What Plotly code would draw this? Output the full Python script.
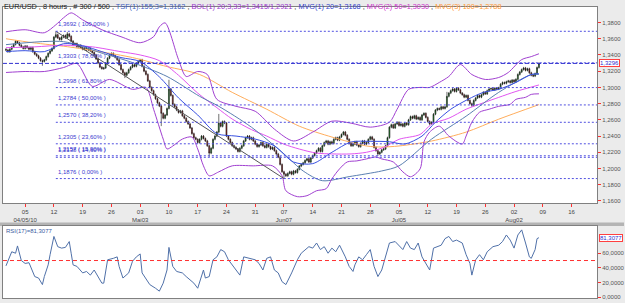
import plotly.graph_objects as go

# ---------------- data ----------------
close = [
    1.346, 1.344, 1.347, 1.350, 1.353, 1.357, 1.355, 1.352, 1.350, 1.348,
    1.351, 1.349, 1.347, 1.349, 1.344, 1.341, 1.339, 1.336, 1.333, 1.332,
    1.334, 1.338, 1.342, 1.345, 1.348,
    1.362, 1.365, 1.361, 1.359, 1.362, 1.364, 1.361, 1.366, 1.363, 1.357,
    1.352, 1.354, 1.350, 1.352, 1.349,
    1.347, 1.349, 1.346, 1.348, 1.345, 1.343, 1.340, 1.335, 1.330, 1.325,
    1.323, 1.324, 1.330, 1.336, 1.340,
    1.342, 1.339, 1.337, 1.334, 1.328, 1.322, 1.318, 1.315, 1.318, 1.322,
    1.325, 1.328, 1.326, 1.330, 1.332,
    1.334, 1.326, 1.320, 1.316, 1.308, 1.300, 1.296, 1.291, 1.286, 1.281,
    1.277, 1.268, 1.262, 1.266, 1.274,
    1.298, 1.290, 1.279, 1.276, 1.272, 1.269, 1.271, 1.265, 1.262, 1.258,
    1.255, 1.250, 1.243, 1.238, 1.236,
    1.232, 1.236, 1.240, 1.237, 1.234, 1.228, 1.219, 1.225, 1.236, 1.240,
    1.245, 1.256, 1.252, 1.258, 1.256,
    1.240, 1.236, 1.232, 1.228, 1.226, 1.224, 1.221, 1.225, 1.228, 1.234,
    1.238, 1.240, 1.236, 1.238, 1.234,
    1.230, 1.227, 1.229, 1.232, 1.228, 1.226, 1.230, 1.227, 1.224, 1.226,
    1.222, 1.218, 1.214, 1.205, 1.196,
    1.193, 1.191, 1.194, 1.196, 1.193, 1.197, 1.195, 1.199, 1.203, 1.205,
    1.207, 1.210, 1.212, 1.208, 1.213,
    1.216, 1.219, 1.222, 1.225, 1.221, 1.228, 1.232, 1.234, 1.230, 1.233,
    1.231, 1.236, 1.238, 1.235, 1.239,
    1.242, 1.245, 1.241, 1.236, 1.231, 1.228, 1.230, 1.233, 1.229, 1.227,
    1.231, 1.234, 1.230, 1.232, 1.236,
    1.239, 1.236, 1.226, 1.222, 1.218, 1.220, 1.223, 1.224, 1.228, 1.238,
    1.251, 1.254, 1.250, 1.255, 1.257,
    1.253, 1.255, 1.252, 1.256, 1.254, 1.260, 1.264, 1.262, 1.265, 1.261,
    1.263, 1.260, 1.266, 1.268, 1.263,
    1.258, 1.255, 1.257, 1.267, 1.272, 1.274, 1.273, 1.276, 1.274, 1.276,
    1.289, 1.293, 1.296, 1.298, 1.295,
    1.299, 1.297, 1.293, 1.291, 1.288, 1.290, 1.284, 1.280, 1.278, 1.284,
    1.287, 1.290, 1.288, 1.291, 1.294,
    1.292, 1.296, 1.298, 1.2985, 1.297, 1.299, 1.298, 1.2995, 1.304, 1.306,
    1.305, 1.307, 1.308, 1.306, 1.309,
    1.307, 1.310, 1.316, 1.319, 1.322, 1.324, 1.321, 1.323, 1.318, 1.315,
    1.314, 1.317, 1.3245, 1.3296,
]
first_open = 1.347
wick = 0.0013
special_high = {26: 1.3692, 32: 1.3682, 85: 1.3094, 111: 1.2673, 230: 1.2945}
special_low = {19: 1.3267, 50: 1.3220, 62: 1.3115, 81: 1.2523, 106: 1.2144,
               145: 1.1876, 194: 1.2155, 243: 1.2760}

# indicator readings: (bar index, value)
bb_up_idx = [0, 10, 20, 26, 30, 34, 40, 50, 60, 70, 77, 80, 83, 90, 94, 100, 105,
             110, 120, 130, 140, 150, 160, 170, 180, 190, 200, 204, 210, 216, 221,
             226, 231, 237, 243, 250, 257, 262, 269, 274, 278]
bb_up_val = [1.3686, 1.3711, 1.3674, 1.3772, 1.3858, 1.3919, 1.3833, 1.3711, 1.3625,
             1.3551, 1.3625, 1.3747, 1.3796, 1.3343, 1.3135, 1.3196, 1.3160, 1.2853,
             1.2767, 1.2706, 1.2486, 1.2339, 1.2449, 1.2584, 1.2559, 1.2510, 1.2571,
             1.2731, 1.2976, 1.3000, 1.3000, 1.3061, 1.3135, 1.3282, 1.3159, 1.3098,
             1.3122, 1.3184, 1.3343, 1.3380, 1.3415]
bb_lo_idx = [0, 10, 20, 30, 37, 45, 54, 66, 73, 77, 82, 84, 87, 92, 97, 100, 103,
             106, 111, 118, 129, 139, 144, 146, 152, 157, 162, 167, 170, 174, 178,
             183, 188, 193, 196, 202, 207, 211, 216, 218, 221, 226, 231, 238, 240,
             243, 247, 252, 257, 263, 266, 271, 274, 278]
bb_lo_val = [1.3184, 1.3196, 1.3196, 1.3245, 1.3294, 1.3013, 1.3098, 1.2976, 1.3000,
             1.2731, 1.2363, 1.2241, 1.2277, 1.2363, 1.2388, 1.2241, 1.2033, 1.1910,
             1.1959, 1.2033, 1.2033, 1.2033, 1.1910, 1.1726, 1.1653, 1.1665, 1.1726,
             1.1751, 1.1873, 1.1996, 1.2081, 1.2094, 1.2118, 1.2143, 1.2118, 1.2081,
             1.1959, 1.1898, 1.1996, 1.2327, 1.2449, 1.2522, 1.2400, 1.2302, 1.2400,
             1.2571, 1.2694, 1.2731, 1.2767, 1.2792, 1.2853, 1.2878, 1.2914, 1.2921]
ma20_idx = [0, 10, 20, 30, 40, 50, 60, 70, 80, 90, 100, 110, 120, 130, 140, 150,
            160, 170, 180, 190, 200, 208, 217, 224, 232, 241, 249, 257, 266, 274, 278]
ma20_val = [1.3441, 1.3453, 1.3441, 1.3539, 1.3514, 1.3441, 1.3368, 1.3319, 1.3130,
            1.2870, 1.2660, 1.2430, 1.2400, 1.2363, 1.2280, 1.2080, 1.2060, 1.2200,
            1.2327, 1.2335, 1.2330, 1.2302, 1.2400, 1.2571, 1.2731, 1.2853, 1.2939,
            1.2976, 1.3061, 1.3159, 1.3168]
ma50_idx = [0, 15, 30, 45, 60, 70, 80, 90, 100, 110, 118, 128, 136, 145, 153, 162,
            170, 180, 188, 197, 205, 216, 222, 231, 240, 249, 257, 266, 278]
ma50_val = [1.3490, 1.3500, 1.3520, 1.3500, 1.3440, 1.3400, 1.3330, 1.3150, 1.2930,
            1.2750, 1.2610, 1.2480, 1.2400, 1.2300, 1.2240, 1.2190, 1.2180, 1.2180,
            1.2200, 1.2260, 1.2360, 1.2420, 1.2547, 1.2620, 1.2731, 1.2810, 1.2877,
            1.2950, 1.3030]
ma100_idx = [0, 14, 32, 49, 66, 84, 101, 118, 136, 153, 170, 188, 196, 205, 222,
             240, 257, 278]
ma100_val = [1.3600, 1.3551, 1.3502, 1.3441, 1.3368, 1.3257, 1.3159, 1.2939, 1.2731,
             1.2522, 1.2388, 1.2278, 1.2265, 1.2278, 1.2339, 1.2449, 1.2608, 1.2788]
tsf_idx = [0, 30, 49, 66, 84, 101, 111, 128, 145, 155, 165, 179, 196, 205, 222,
           240, 257, 274, 278]
tsf_val = [1.3527, 1.3564, 1.3430, 1.3306, 1.3135, 1.2890, 1.2767, 1.2510, 1.2180,
           1.1970, 1.1850, 1.1900, 1.1970, 1.2033, 1.2363, 1.2645, 1.2939, 1.3159,
           1.3162]

trend_idx = [26, 145]
trend_val = [1.3692, 1.1876]

fib_start = 26
fib_levels = [1.3692, 1.3303, 1.2998, 1.2784, 1.2570, 1.2305, 1.2157, 1.2138, 1.1876]
fib_labels = ["1,3692 ( 100,00% )", "1,3303 ( 78,60% )", "1,2998 ( 61,80% )",
              "1,2784 ( 50,00% )", "1,2570 ( 38,20% )", "1,2305 ( 23,60% )",
              "1,2157 ( 15,90% )", "1,2138 ( 14,60% )", "1,1876 ( 0,00% )"]
last_price = 1.3296

rsi_idx = [0, 1, 3, 5, 6, 8, 10, 12, 15, 17, 19, 20, 22, 23, 25, 27, 29, 31, 33, 34,
           35, 37, 40, 42, 44, 46, 48, 50, 51, 53, 56, 58, 59, 61, 64, 66, 68, 70,
           71, 75, 78, 80, 82, 84, 85, 87, 89, 92, 94, 96, 98, 100, 103, 104, 106,
           108, 110, 112, 114, 116, 119, 122, 124, 127, 130, 132, 134, 136, 138,
           140, 142, 144, 146, 149, 152, 154, 156, 158, 160, 162, 164, 166, 168,
           170, 172, 174, 177, 179, 181, 182, 184, 186, 188, 190, 192, 194, 196,
           198, 200, 203, 205, 207, 209, 211, 213, 215, 217, 219, 221, 223, 225,
           227, 229, 231, 233, 235, 238, 240, 242, 243, 245, 247, 249, 251, 254,
           257, 259, 261, 263, 265, 267, 269, 271, 273, 274, 276, 277, 278]
rsi_val = [42.7, 48.6, 62, 60, 70, 50, 46, 47, 28, 26, 17, 28, 44, 58, 83, 69, 67, 68,
           76, 60, 44, 42, 33, 35, 30, 37, 28, 19, 19, 51, 53, 55, 42, 26, 33, 49, 55,
           59, 33, 17, 12, 8, 19, 37, 68, 42, 35, 33, 28, 24, 19, 12, 37, 26, 28, 51,
           55, 65, 62, 51, 40, 30, 55, 53, 51, 46, 37, 53, 55, 37, 33, 21, 17, 33, 51,
           60, 65, 69, 67, 74, 65, 69, 60, 67, 62, 71, 55, 42, 35, 44, 55, 51, 58, 65,
           42, 28, 37, 55, 74, 76, 71, 65, 76, 67, 65, 74, 55, 46, 37, 67, 69, 71, 80,
           83, 76, 78, 74, 58, 46, 30, 51, 58, 51, 62, 69, 71, 76, 85, 78, 67, 85, 92,
           74, 55, 53, 65, 80, 81.3077]

tick_idx = [10, 25, 40, 55, 70, 85, 100, 115, 130, 145, 160, 175, 190, 205, 220,
            235, 250, 265, 280, 295]
tick_day = ["05", "12", "19", "26", "03", "10", "17", "24", "31", "07", "14", "21",
            "28", "05", "12", "19", "26", "02", "09", "16"]
tick_month = {0: "04/05/10", 4: "Mai03", 9: "Jun07", 13: "Jul05", 17: "Aug02"}

price_ticks = [1.16, 1.18, 1.20, 1.22, 1.24, 1.26, 1.28, 1.30, 1.32, 1.34, 1.36, 1.38]
rsi_ticks = [0, 20, 40, 60]

# ---------------- build ----------------
n = len(close)
xs = list(range(n))
opens = [first_open] + close[:-1]
highs = [special_high.get(i, max(o, c) + wick) for i, (o, c) in enumerate(zip(opens, close))]
lows = [special_low.get(i, min(o, c) - wick) for i, (o, c) in enumerate(zip(opens, close))]

W, H = 625, 303
def px(x):
    return x / W
def py(y):
    return 1 - y / H

FONT = "Liberation Sans"
fig = go.Figure()

def line(xv, yv, color, width=1, yaxis="y", xaxis="x", dash=None, shape="spline"):
    fig.add_trace(go.Scatter(x=xv, y=yv, mode="lines", xaxis=xaxis, yaxis=yaxis,
                             line=dict(color=color, width=width, dash=dash, shape=shape,
                                       smoothing=0.8 if shape == "spline" else None),
                             hoverinfo="skip", showlegend=False))

line(ma100_idx, ma100_val, "#ffad5c")
line(ma50_idx, ma50_val, "#e055f0")
line(tsf_idx, tsf_val, "#5a7fb0")
line(bb_up_idx, bb_up_val, "#a040d0")
line(bb_lo_idx, bb_lo_val, "#a040d0")
line(trend_idx, trend_val, "#555555", shape="linear")

fig.add_trace(go.Candlestick(
    x=xs, open=opens, high=highs, low=lows, close=close,
    increasing=dict(line=dict(color="#111111", width=0.6), fillcolor="#1f9a2a"),
    decreasing=dict(line=dict(color="#111111", width=0.6), fillcolor="#b02020"),
    whiskerwidth=0, hoverinfo="skip", showlegend=False))

line(ma20_idx, ma20_val, "#3850e0")

# RSI
line(rsi_idx, rsi_val, "#4f70a8", xaxis="x2", yaxis="y2", shape="linear")

XMIN, XMAX = -1.56, 308.3
shapes = []
for lv in fib_levels:
    shapes.append(dict(type="line", xref="x", yref="y", x0=fib_start, x1=XMAX, y0=lv, y1=lv,
                       line=dict(color="#5050e0", width=1, dash="2px,2px")))
shapes.append(dict(type="line", xref="x", yref="y", x0=XMIN, x1=XMAX, y0=last_price,
                   y1=last_price, line=dict(color="#3030d0", width=1, dash="4px,2px")))
shapes.append(dict(type="line", xref="x2", yref="y2", x0=XMIN, x1=XMAX, y0=50, y1=50,
                   line=dict(color="#ff3030", width=1, dash="4px,3px")))
shapes.append(dict(type="rect", xref="paper", yref="paper", x0=0, x1=1,
                   y0=py(227.5), y1=py(224), fillcolor="#b4b4b4", line=dict(width=0),
                   layer="below"))

ann = []
for lv, lab in zip(fib_levels, fib_labels):
    ann.append(dict(x=fib_start, y=lv, xref="x", yref="y", text=lab, showarrow=False,
                    xanchor="left", yanchor="bottom", yshift=2,
                    font=dict(family=FONT, size=6, color="#3a3ad0")))

header = ("EUR/USD , 8 hours , # 300 / 500 , "
          "<span style='color:#4060c0'>TSF(1):155;3=1,3162</span> , "
          "<span style='color:#9933cc'>BOL(1) 20;3,33=1,3415/1,2921</span> , "
          "<span style='color:#3344cc'>MVG(1) 20=1,3168</span> , "
          "<span style='color:#cc33cc'>MVG(2) 50=1,3030</span> , "
          "<span style='color:#ff9933'>MVG(3) 100=1,2788</span>")
ann.append(dict(x=px(2), y=py(-0.5), xref="paper", yref="paper", text=header, showarrow=False,
                xanchor="left", yanchor="top", font=dict(family=FONT, size=7.3, color="#222")))
ann.append(dict(x=px(600), y=last_price, xref="paper", yref="y", text="1,3296",
                showarrow=False, xanchor="left", yanchor="middle",
                bordercolor="#ff4040", borderwidth=1, borderpad=0, bgcolor="#ffffff",
                font=dict(family=FONT, size=6, color="#3030d0")))
ann.append(dict(x=px(600), y=rsi_val[-1], xref="paper", yref="y2", text="81,3077",
                showarrow=False, xanchor="left", yanchor="middle",
                bordercolor="#ff4040", borderwidth=1, borderpad=0, bgcolor="#ffffff",
                font=dict(family=FONT, size=6, color="#3030d0")))
ann.append(dict(x=px(4), y=py(227), xref="paper", yref="paper", text="RSI(17)=81,3077",
                showarrow=False, xanchor="left", yanchor="top",
                font=dict(family=FONT, size=6, color="#3a5aa0")))

ticktext = []
for k, d in enumerate(tick_day):
    ticktext.append(d + ("<br>" + tick_month[k] if k in tick_month else ""))

axis_common = dict(showgrid=False, zeroline=False, showline=True, linecolor="#808080",
                   linewidth=1, mirror=True)
fig.update_layout(
    width=W, height=H, margin=dict(l=0, r=0, t=0, b=0),
    paper_bgcolor="#ebebeb", plot_bgcolor="#ffffff", showlegend=False,
    font=dict(family=FONT, size=6, color="#444"),
    xaxis=dict(domain=[px(3), px(598)], range=[XMIN, XMAX], anchor="y",
               tickvals=tick_idx, ticktext=ticktext, ticks="outside", ticklen=3,
               tickcolor="#ff3030", tickfont=dict(family=FONT, size=6, color="#444"),
               rangeslider=dict(visible=False), **axis_common),
    yaxis=dict(domain=[py(204.5), py(7)], range=[1.1573, 1.3992], side="right",
               anchor="x", tickvals=price_ticks,
               ticktext=[f"{v:.4f}".replace(".", ",") for v in price_ticks],
               ticks="outside", ticklen=3, tickcolor="#ff3030",
               tickfont=dict(family=FONT, size=6, color="#555"), **axis_common),
    xaxis2=dict(domain=[px(3), px(598)], range=[XMIN, XMAX], anchor="y2",
                matches="x", showticklabels=False, ticks="", **axis_common),
    yaxis2=dict(domain=[py(300), py(227)], range=[-1.4, 98], side="right",
                anchor="x2", tickvals=rsi_ticks,
                ticktext=[f"{v:.4f}".replace(".", ",") for v in rsi_ticks],
                ticks="outside", ticklen=3, tickcolor="#ff3030",
                tickfont=dict(family=FONT, size=6, color="#555"), **axis_common),
    shapes=shapes, annotations=ann,
)

fig.write_html("out.html")
